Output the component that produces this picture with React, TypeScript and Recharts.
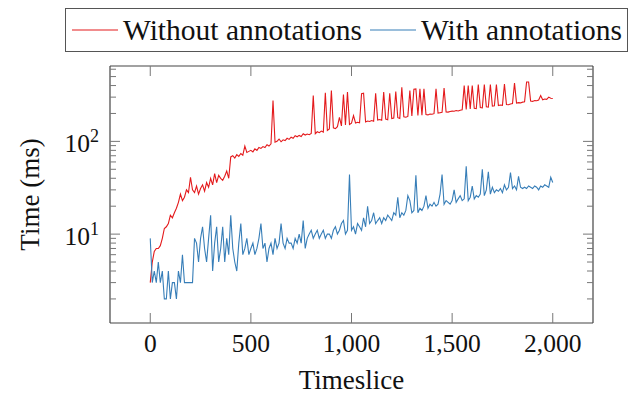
import React from 'react';
import { LineChart, Line, XAxis, YAxis, Legend } from 'recharts';

const timeslices: number[] = Array.from({ length: 201 }, (_, i) => i * 10);

const withoutAnnotations: number[] = [
  3, 5, 6.5, 7, 7, 7.5, 9, 11.5, 12, 13,
  16, 15, 17, 19, 22, 27, 23, 25, 30, 28,
  41, 30, 28, 33, 27, 31, 34, 29, 36, 32,
  40, 34, 45, 36, 43, 40, 38, 42, 48, 40,
  68, 70, 66, 72, 69, 74, 71, 89, 76, 78,
  80, 77, 83, 80, 86, 84, 88, 86, 92, 89,
  94, 276, 98, 100, 106, 99, 104, 102, 108, 105,
  111, 108, 115, 112, 116, 113, 121, 117, 120, 118,
  122, 312, 121, 127, 124, 129, 126, 334, 131, 136,
  353, 140, 137, 144, 182, 147, 320, 150, 340, 152,
  157, 190, 158, 161, 159, 327, 331, 162, 166, 164,
  168, 165, 331, 170, 172, 169, 340, 174, 171, 331,
  176, 178, 345, 180, 177, 383, 184, 182, 186, 353,
  188, 365, 368, 190, 370, 192, 368, 195, 193, 197,
  196, 199, 368, 202, 204, 206, 377, 208, 207, 210,
  212, 211, 215, 213, 217, 219, 400, 221, 400, 224,
  400, 228, 226, 410, 232, 230, 410, 236, 234, 410,
  240, 242, 410, 244, 247, 245, 415, 250, 248, 253,
  256, 425, 259, 262, 260, 265, 268, 437, 437, 272,
  270, 276, 274, 279, 312, 281, 286, 284, 300, 292,
  290,
];

const withAnnotations: number[] = [
  9, 3, 4, 3, 5, 3, 4, 2, 2, 4,
  2, 3, 3, 2, 4, 3, 6, 3, 3, 3,
  3, 3, 9, 8, 5, 9, 12, 7, 5, 9,
  16, 4, 8, 12, 5, 7, 12, 5, 9, 6,
  16, 7, 5, 4, 8, 13, 6, 7, 9, 6,
  7, 8, 6, 7, 9, 13, 7, 8, 5, 7,
  8, 6, 9, 7, 8, 13, 8, 7, 9, 8,
  8, 7, 9, 8, 10, 8, 14, 7, 9, 10,
  11, 9, 10, 11, 9, 10, 11, 9, 10, 10,
  9, 11, 12, 10, 11, 13, 14, 10, 11, 44,
  11, 12, 10, 13, 12, 11, 15, 12, 20, 13,
  14, 17, 13, 14, 15, 13, 15, 14, 16, 15,
  14, 17, 16, 25, 15, 17, 16, 18, 26, 23,
  17, 18, 43, 17, 19, 18, 20, 26, 19, 21,
  20, 22, 20, 21, 27, 44, 21, 23, 22, 21,
  23, 30, 22, 24, 26, 23, 24, 54, 23, 25,
  33, 24, 26, 25, 27, 50, 26, 30, 47, 27,
  32, 28, 30, 29, 31, 28, 34, 30, 32, 46,
  31, 33, 30, 42, 32, 31, 32, 31, 33, 32,
  31, 33, 32, 30, 33, 32, 34, 33, 32, 41,
  36,
];

const seriesNames: string[] = ['Without annotations', 'With annotations'];
const xTicks: number[] = [0, 500, 1000, 1500, 2000];
const yTicks: number[] = [2, 3, 4, 5, 6, 7, 8, 9, 10, 20, 30, 40, 50, 60, 70, 80, 90, 100, 200, 300, 400, 500, 600];
const yMajor: number[] = [10, 100];

const data = timeslices.map((t, i) => ({ t, without: withoutAnnotations[i], with: withAnnotations[i] }));

const FONT = '"Liberation Serif", "DejaVu Serif", serif';
const TICK_COLOR = '#777';
const AXIS_COLOR = '#444';

const fmt = (v: number) => v.toLocaleString('en-US');

const BottomTick = (props: any) => {
  const { x, y, payload } = props;
  return (
    <g>
      <line x1={x} y1={y} x2={x} y2={y - 10} stroke={TICK_COLOR} strokeWidth={1} />
      <text x={x} y={y + 29} textAnchor="middle" fontFamily={FONT} fontSize={25.5} fill="#111">
        {fmt(payload.value)}
      </text>
    </g>
  );
};

const TopTick = (props: any) => {
  const { x, y } = props;
  return <line x1={x} y1={y} x2={x} y2={y + 10} stroke={TICK_COLOR} strokeWidth={1} />;
};

const LeftTick = (props: any) => {
  const { x, y, payload } = props;
  const v = payload.value;
  const major = yMajor.includes(v);
  return (
    <g>
      <line x1={x} y1={y} x2={x + (major ? 10 : 6)} y2={y} stroke={TICK_COLOR} strokeWidth={1} />
      {major && (
        <text x={x - 11} y={y + 11} textAnchor="end" fontFamily={FONT} fontSize={25.5} fill="#111">
          10
          <tspan dy={-10} fontSize={18}>{String(Math.round(Math.log10(v)))}</tspan>
        </text>
      )}
    </g>
  );
};

const RightTick = (props: any) => {
  const { x, y, payload } = props;
  const major = yMajor.includes(payload.value);
  return <line x1={x} y1={y} x2={x - (major ? 10 : 6)} y2={y} stroke={TICK_COLOR} strokeWidth={1} />;
};

const renderLegend = (props: any) => {
  const payload = [...(props.payload || [])].sort(
    (a: any, b: any) => seriesNames.indexOf(a.value) - seriesNames.indexOf(b.value)
  );
  return (
    <div
      style={{
        boxSizing: 'border-box',
        width: 563,
        height: 44,
        border: '1.2px solid #555',
        display: 'flex',
        alignItems: 'center',
        paddingLeft: 6,
        fontFamily: FONT,
        fontSize: 29.5,
        color: '#111',
        whiteSpace: 'nowrap',
      }}
    >
      {payload.map((e: any, i: number) => (
        <div key={i} style={{ display: 'flex', alignItems: 'center' }}>
          <svg width={46} height={4} style={{ display: 'block' }}>
            <line x1={0} y1={2} x2={46} y2={2} stroke={e.color} strokeWidth={1.2} />
          </svg>
          <span style={{ marginLeft: 5, marginRight: i === 0 ? 8 : 0 }}>{e.value}</span>
        </div>
      ))}
    </div>
  );
};

const YLabel = (props: any) => {
  const vb = props.viewBox || {};
  const cx = vb.x + 30;
  const cy = vb.y + vb.height / 2;
  return (
    <text x={cx} y={cy} transform={`rotate(-90 ${cx} ${cy})`} textAnchor="middle" dominantBaseline="central" fontFamily={FONT} fontSize={27} fill="#111">
      Time (ms)
    </text>
  );
};

const XLabel = (props: any) => {
  const vb = props.viewBox || {};
  const cx = vb.x + vb.width / 2;
  const cy = vb.y + 66;
  return (
    <text x={cx} y={cy} textAnchor="middle" fontFamily={FONT} fontSize={27} fill="#111">
      Timeslice
    </text>
  );
};

export default function App() {
  return (
    <div style={{ position: 'absolute', left: 0, top: 0, width: 641, height: 394, background: '#fff' }}>
      <LineChart width={641} height={394} data={data} margin={{ top: 0, right: 0, bottom: 0, left: 0 }}>
        <XAxis
          dataKey="t"
          type="number"
          domain={[-200, 2200]}
          ticks={xTicks}
          interval={0}
          height={71}
          tickSize={0}
          tickMargin={0}
          tick={<BottomTick />}
          axisLine={{ stroke: AXIS_COLOR, strokeWidth: 1.2 }}
          allowDataOverflow
          label={<XLabel />}
        />
        <XAxis
          xAxisId="top"
          orientation="top"
          dataKey="t"
          type="number"
          domain={[-200, 2200]}
          ticks={xTicks}
          interval={0}
          height={66}
          tickSize={0}
          tickMargin={0}
          tick={<TopTick />}
          axisLine={{ stroke: AXIS_COLOR, strokeWidth: 1.2 }}
          allowDataOverflow
        />
        <YAxis
          type="number"
          scale="log"
          domain={[1.1, 650]}
          ticks={yTicks}
          interval={0}
          width={110}
          tickSize={0}
          tickMargin={0}
          tick={<LeftTick />}
          axisLine={{ stroke: AXIS_COLOR, strokeWidth: 1.2 }}
          allowDataOverflow
          label={<YLabel />}
        />
        <YAxis
          yAxisId="right"
          orientation="right"
          type="number"
          scale="log"
          domain={[1.1, 650]}
          ticks={yTicks}
          interval={0}
          width={48}
          tickSize={0}
          tickMargin={0}
          tick={<RightTick />}
          axisLine={{ stroke: AXIS_COLOR, strokeWidth: 1.2 }}
          allowDataOverflow
        />
        <Legend
          layout="horizontal"
          verticalAlign="middle"
          align="center"
          content={renderLegend}
          wrapperStyle={{ position: 'absolute', top: 8, left: 65, width: 563, height: 44 }}
        />
        <Line
          name={seriesNames[0]}
          dataKey="without"
          stroke="#e41a1c"
          strokeWidth={1.1}
          dot={false}
          activeDot={false}
          isAnimationActive={false}
        />
        <Line
          name={seriesNames[1]}
          dataKey="with"
          stroke="#377eb8"
          strokeWidth={1.1}
          dot={false}
          activeDot={false}
          isAnimationActive={false}
        />
      </LineChart>
    </div>
  );
}
